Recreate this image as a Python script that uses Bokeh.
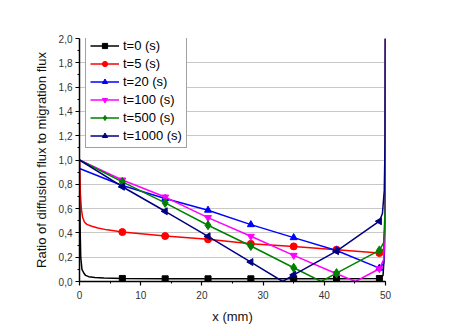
from bokeh.plotting import figure
from bokeh.models import (Range1d, SingleIntervalTicker, FixedTicker, Legend, LegendItem,
                          CustomJSTickFormatter)
from bokeh.embed import file_html
from bokeh.resources import INLINE

# Ratio of diffusion flux to migration flux along the cell (x in mm)
series_labels = ["t=0 (s)", "t=5 (s)", "t=20 (s)", "t=100 (s)", "t=500 (s)", "t=1000 (s)"]

x_t0 = [0, 0.1, 0.2, 0.4, 0.7, 1, 1.5, 2.5, 4, 7, 14, 21, 28, 35, 42, 49, 49.6, 49.9, 50]
y_t0 = [1.0, 0.45, 0.2, 0.1, 0.07, 0.05, 0.04, 0.032, 0.028, 0.025, 0.022, 0.022, 0.022,
        0.022, 0.022, 0.025, 0.05, 0.3, 2.0]

x_t5 = [0, 0.05, 0.15, 0.3, 0.5, 0.8, 1.2, 2, 3, 4.5, 7, 14, 21, 28, 35, 42, 49, 49.7, 49.95, 50]
y_t5 = [1.0, 0.9, 0.72, 0.6, 0.53, 0.49, 0.47, 0.455, 0.44, 0.425, 0.407, 0.374, 0.347,
        0.31, 0.289, 0.262, 0.234, 0.27, 0.5, 2.0]

x_t20 = [0, 7, 14, 21, 28, 35, 42, 49, 49.7, 49.95, 50]
y_t20 = [0.93, 0.79, 0.683, 0.587, 0.468, 0.361, 0.255, 0.11, 0.15, 0.5, 2.0]

x_t100 = [0, 7, 14, 21, 28, 35, 42, 45.1, 49, 49.7, 49.95, 50]
y_t100 = [1.0, 0.835, 0.695, 0.526, 0.372, 0.215, 0.064, 0.0, 0.105, 0.18, 0.5, 2.0]

x_t500 = [0, 7, 14, 21, 28, 35, 39.5, 42, 49, 49.7, 49.95, 50]
y_t500 = [1.0, 0.82, 0.647, 0.463, 0.292, 0.113, 0.0, 0.069, 0.256, 0.32, 0.6, 2.0]

x_t1000 = [0, 7, 14, 21, 28, 33.2, 35, 42, 49, 49.5, 49.8, 49.95, 50]
y_t1000 = [1.0, 0.78, 0.578, 0.372, 0.16, 0.0, 0.055, 0.25, 0.496, 0.56, 0.75, 1.2, 2.0]

# symbols are placed every 7 mm
marker_x = [7, 14, 21, 28, 35, 42, 49]

y_ticks = [0.0, 0.2, 0.4, 0.6, 0.8, 1.0, 1.2, 1.4, 1.6, 1.8, 2.0]
grid_ticks = [0.2, 0.4, 0.6, 0.8, 1.0, 1.2, 1.4, 1.6, 1.8]

xs = [x_t0, x_t5, x_t20, x_t100, x_t500, x_t1000]
ys = [y_t0, y_t5, y_t20, y_t100, y_t500, y_t1000]
colors = ["#000000", "#FF0000", "#0000FF", "#FF00FF", "#008000", "#000080"]
markers = ["square", "circle", "triangle", "inverted_triangle", "diamond", "triangle"]
sizes = [6, 7, 7, 7, 9, 7]
angles = [0, 0, 0, 0, 0, 1.5708]

FONT = "Liberation Sans"

p = figure(width=449, height=330, output_backend="svg", toolbar_location=None,
           x_range=Range1d(0, 50), y_range=Range1d(0, 2.0),
           min_border_left=79, min_border_right=64, min_border_top=38, min_border_bottom=49)
p.outline_line_color = None
p.background_fill_color = "white"
p.border_fill_color = "white"

p.xgrid.visible = False
p.ygrid.ticker = FixedTicker(ticks=grid_ticks)
p.ygrid.grid_line_color = "#c8c8c8"
p.ygrid.grid_line_width = 1

p.xaxis.ticker = SingleIntervalTicker(interval=10, num_minor_ticks=2)
p.yaxis.ticker = FixedTicker(ticks=y_ticks, minor_ticks=[0.1 + 0.2 * i for i in range(10)])
p.yaxis.formatter = CustomJSTickFormatter(code="return tick.toFixed(1).replace('.', ',');")

for ax in (p.xaxis[0], p.yaxis[0]):
    ax.axis_line_color = "black"
    ax.axis_line_width = 1.5
    ax.major_tick_line_color = "black"
    ax.minor_tick_line_color = "black"
    ax.major_tick_line_width = 1.2
    ax.minor_tick_line_width = 1.0
    ax.major_tick_in = 0
    ax.major_tick_out = 4
    ax.minor_tick_in = 0
    ax.minor_tick_out = 2
    ax.major_label_text_font = FONT
    ax.major_label_text_font_size = "10px"
    ax.major_label_text_color = "#333333"
    ax.axis_label_text_font = FONT
    ax.axis_label_text_font_size = "13px"
    ax.axis_label_text_font_style = "normal"
    ax.axis_label_text_color = "#111111"

p.xaxis.axis_label = "x (mm)"
p.yaxis.axis_label = "Ratio of diffusion flux to migration flux"
p.xaxis.major_label_standoff = 5
p.yaxis.major_label_standoff = 3
p.xaxis.axis_label_standoff = 7
p.yaxis.axis_label_standoff = 7

items = []
for lab, x, y, c, m, s, a in zip(series_labels, xs, ys, colors, markers, sizes, angles):
    r_line = p.line(x, y, line_color=c, line_width=1.5)
    mx = [xv for xv in x if xv in marker_x]
    my = [yv for xv, yv in zip(x, y) if xv in marker_x]
    r_mark = p.scatter(mx, my, marker=m, size=s, angle=a, fill_color=c, line_color=c)
    items.append(LegendItem(label=lab, renderers=[r_line, r_mark]))

legend = Legend(items=items, location=(6, 133))
legend.label_text_font = FONT
legend.label_text_font_size = "13px"
legend.label_text_color = "black"
legend.glyph_width = 29
legend.glyph_height = 13
legend.label_height = 13
legend.label_standoff = 4
legend.padding = 4
legend.spacing = 3
legend.margin = 0
legend.border_line_color = "#444444"
legend.border_line_width = 1
legend.background_fill_color = "white"
legend.background_fill_alpha = 1.0
p.add_layout(legend, "center")

open("out.html", "w").write(file_html(p, INLINE))
